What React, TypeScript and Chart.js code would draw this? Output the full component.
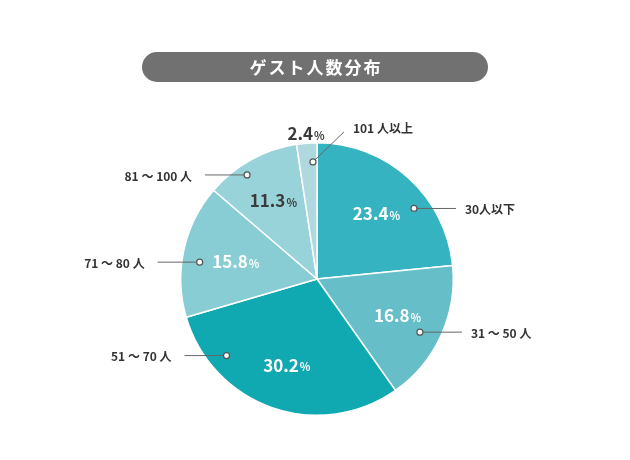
import React, { useEffect, useRef } from "react";
import { Chart, registerables } from "chart.js";

Chart.register(...registerables);

const TITLE = "ゲスト人数分布";
const categories = ["30人以下", "31 ～ 50 人", "51 ～ 70 人", "71 ～ 80 人", "81 ～ 100 人", "101 人以上"];
const shares = [23.4, 16.8, 30.2, 15.8, 11.3, 2.4];
const sliceColors = ["#36b3c1", "#66bec9", "#10a9b1", "#88ccd4", "#99d3da", "#b0d9df"];
const valueTextColors = ["#ffffff", "#ffffff", "#ffffff", "#ffffff", "#3a3a3a", "#3a3a3a"];

// label layout: text radius (fraction of R), marker angle fraction within slice, marker radius fraction, side
const layout = [
  { tr: 0.65, ma: 0.64, mr: 0.88, side: "right" },
  { tr: 0.65, ma: 0.545, mr: 0.85, side: "right" },
  { tr: 0.67, ma: 0.78, mr: 0.87, side: "left" },
  { tr: 0.61, ma: 0.43, mr: 0.87, side: "left" },
  { tr: 0.66, ma: 0.38, mr: 0.92, side: "left" },
  { tr: 1.07, ma: 0.77, mr: 0.86, side: "up" },
];

const FONT = "'Noto Sans CJK JP', 'Noto Sans', sans-serif";

const labelPlugin = {
  id: "pieLabels",
  afterDraw(chart: any) {
    const ctx = chart.ctx;
    const meta = chart.getDatasetMeta(0);
    meta.data.forEach((arc: any, i: number) => {
      const { x, y, startAngle, endAngle, outerRadius } = arc.getProps(
        ["x", "y", "startAngle", "endAngle", "outerRadius"],
        true
      );
      const L = layout[i];
      const mid = (startAngle + endAngle) / 2;
      const tx = x + Math.cos(mid) * outerRadius * L.tr;
      const ty = y + Math.sin(mid) * outerRadius * L.tr;
      const num = shares[i].toFixed(1);
      ctx.save();
      ctx.textBaseline = "middle";
      ctx.font = `bold 17px ${FONT}`;
      const wNum = ctx.measureText(num).width;
      ctx.font = `bold 11px ${FONT}`;
      const wPct = ctx.measureText("%").width;
      const total = wNum + wPct + 1;
      const sx = tx - total / 2;
      ctx.fillStyle = valueTextColors[i];
      ctx.textAlign = "left";
      ctx.font = `bold 17px ${FONT}`;
      ctx.fillText(num, sx, ty);
      ctx.font = `bold 11px ${FONT}`;
      ctx.fillText("%", sx + wNum + 1, ty + 2);

      const ma = startAngle + (endAngle - startAngle) * L.ma;
      const mx = x + Math.cos(ma) * outerRadius * L.mr;
      const my = y + Math.sin(ma) * outerRadius * L.mr;
      let ex = mx;
      let ey = my;
      let lx = mx;
      let ly = my;
      let align: CanvasTextAlign = "left";
      if (L.side === "right") {
        ex = mx + 42;
        lx = ex + 9;
        align = "left";
      } else if (L.side === "left") {
        ex = mx - 42;
        lx = ex - 13;
        align = "right";
      } else {
        ex = mx + 31;
        ey = my - 30;
        lx = ex + 9;
        ly = ey - 4;
        align = "left";
      }
      ctx.strokeStyle = "#666666";
      ctx.lineWidth = 1;
      ctx.beginPath();
      ctx.moveTo(mx, my);
      ctx.lineTo(ex, ey);
      ctx.stroke();
      ctx.beginPath();
      ctx.arc(mx, my, 3, 0, Math.PI * 2);
      ctx.fillStyle = "#ffffff";
      ctx.fill();
      ctx.strokeStyle = "#555555";
      ctx.lineWidth = 1.2;
      ctx.stroke();

      ctx.fillStyle = "#333333";
      ctx.font = `bold 12px ${FONT}`;
      ctx.textAlign = align;
      ctx.fillText(categories[i], lx, ly + 1);
      ctx.restore();
    });
  },
};

export default function App() {
  const ref = useRef<HTMLCanvasElement | null>(null);
  useEffect(() => {
    if (!ref.current) return;
    const chart = new Chart(ref.current, {
      type: "pie",
      data: {
        labels: categories,
        datasets: [
          {
            data: shares,
            backgroundColor: sliceColors,
            borderColor: "#ffffff",
            borderWidth: 1.5,
          },
        ],
      },
      options: {
        responsive: false,
        animation: false,
        layout: { padding: { top: 142, bottom: 44, left: 180, right: 176 } },
        plugins: {
          legend: { display: false },
          tooltip: { enabled: false },
          title: { display: false },
        },
      },
      plugins: [labelPlugin],
    });
    return () => chart.destroy();
  }, []);

  return (
    <div style={{ position: "absolute", left: 0, top: 0, width: 630, height: 460, background: "#ffffff" }}>
      <canvas ref={ref} width={630} height={460} style={{ position: "absolute", left: 0, top: 0 }} />
      <div
        style={{
          position: "absolute",
          left: 142,
          top: 52,
          width: 346,
          height: 30,
          borderRadius: 15,
          background: "#717171",
          color: "#ffffff",
          fontFamily: FONT,
          fontWeight: "bold",
          fontSize: 17,
          lineHeight: "30px",
          textAlign: "center",
          letterSpacing: 2,
          textIndent: 2,
        }}
      >
        {TITLE}
      </div>
    </div>
  );
}
